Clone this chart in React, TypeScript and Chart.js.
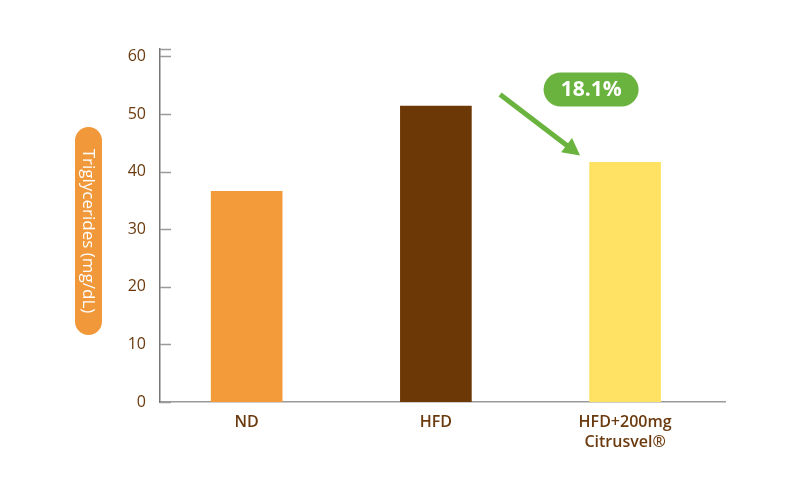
import React, { useEffect, useRef } from "react";
import { Chart, registerables } from "chart.js";

Chart.register(...registerables);

const categories: string[][] = [["ND"], ["HFD"], ["HFD+200mg", "Citrusvel®"]];
const values: number[] = [36.6, 51.4, 41.6];
const barColors: string[] = ["#F39A3A", "#6B3806", "#FFE264"];
const yTicks: number[] = [0, 10, 20, 30, 40, 50, 60];
const yMax = 61.3;
const yTitle = "Triglycerides (mg/dL)";
const reductionLabel = "18.1%";

const FONT = "'Open Sans', 'Noto Sans', sans-serif";
const BROWN = "#6B3A0E";
const GREEN = "#6AB33E";

function roundRect(ctx: CanvasRenderingContext2D, x: number, y: number, w: number, h: number, r: number) {
  ctx.beginPath();
  ctx.moveTo(x + r, y);
  ctx.lineTo(x + w - r, y);
  ctx.arc(x + w - r, y + r, r, -Math.PI / 2, 0);
  ctx.lineTo(x + w, y + h - r);
  ctx.arc(x + w - r, y + h - r, r, 0, Math.PI / 2);
  ctx.lineTo(x + r, y + h);
  ctx.arc(x + r, y + h - r, r, Math.PI / 2, Math.PI);
  ctx.lineTo(x, y + r);
  ctx.arc(x + r, y + r, r, Math.PI, Math.PI * 1.5);
  ctx.closePath();
}

const decorPlugin = {
  id: "decor",
  afterDraw(chart: any) {
    const ctx: CanvasRenderingContext2D = chart.ctx;
    const ys = chart.scales.y;
    const xs = chart.scales.x;
    const area = chart.chartArea;
    ctx.save();
    // inward tick marks
    ctx.strokeStyle = "#9A9A9A";
    ctx.lineWidth = 1.5;
    [...yTicks, yMax].forEach((v) => {
      const py = Math.round(ys.getPixelForValue(v)) + 0.5;
      ctx.beginPath();
      ctx.moveTo(area.left, py);
      ctx.lineTo(area.left + 11, py);
      ctx.stroke();
    });
    // y-axis title pill
    const pillW = 27;
    const pillH = 208;
    const pcx = 88.5;
    const pcy = 231;
    ctx.fillStyle = "#F0983A";
    roundRect(ctx, pcx - pillW / 2, pcy - pillH / 2, pillW, pillH, pillW / 2);
    ctx.fill();
    ctx.translate(pcx, pcy);
    ctx.rotate(Math.PI / 2);
    ctx.fillStyle = "#FFFFFF";
    ctx.font = `17px ${FONT}`;
    ctx.textAlign = "center";
    ctx.textBaseline = "middle";
    ctx.fillText(yTitle, 0, 1);
    ctx.restore();

    // annotation: arrow + pill
    ctx.save();
    const bx = xs.getPixelForValue(2);
    const by = ys.getPixelForValue(values[2]);
    const ex = bx - 45;
    const ey = by - 7;
    const sx = bx - 125;
    const sy = by - 68;
    const dx = ex - sx;
    const dy = ey - sy;
    const len = Math.hypot(dx, dy);
    const ux = dx / len;
    const uy = dy / len;
    const headL = 17;
    const headW = 9;
    ctx.strokeStyle = GREEN;
    ctx.fillStyle = GREEN;
    ctx.lineWidth = 5;
    ctx.beginPath();
    ctx.moveTo(sx, sy);
    ctx.lineTo(ex - ux * headL * 0.9, ey - uy * headL * 0.9);
    ctx.stroke();
    ctx.beginPath();
    ctx.moveTo(ex, ey);
    ctx.lineTo(ex - ux * headL - uy * headW, ey - uy * headL + ux * headW);
    ctx.lineTo(ex - ux * headL + uy * headW, ey - uy * headL - ux * headW);
    ctx.closePath();
    ctx.fill();
    const lcx = bx - 34;
    const lcy = by - 73;
    const lw = 95;
    const lh = 34;
    roundRect(ctx, lcx - lw / 2, lcy - lh / 2, lw, lh, lh / 2);
    ctx.fill();
    ctx.fillStyle = "#FFFFFF";
    ctx.font = `bold 21px ${FONT}`;
    ctx.textAlign = "center";
    ctx.textBaseline = "middle";
    ctx.fillText(reductionLabel, lcx, lcy + 1);
    ctx.restore();
  },
};

export default function App() {
  const canvasRef = useRef<HTMLCanvasElement | null>(null);

  useEffect(() => {
    if (!canvasRef.current) return;
    const chart = new Chart(canvasRef.current, {
      type: "bar",
      data: {
        datasets: [
          {
            data: values.map((v, i) => ({ x: i, y: v })) as any,
            backgroundColor: barColors,
            borderWidth: 0,
            barThickness: 71,
          },
        ],
      },
      options: {
        responsive: false,
        animation: false,
        layout: { padding: { top: 49, right: 75, bottom: 0, left: 0 } },
        plugins: { legend: { display: false }, tooltip: { enabled: false } },
        scales: {
          x: {
            type: "linear",
            offset: false,
            min: -0.458,
            max: 2.528,
            afterBuildTicks: (s: any) => {
              s.ticks = categories.map((_, i) => ({ value: i }));
            },
            afterFit: (s: any) => {
              s.height = 98;
            },
            grid: { display: false, drawTicks: false, offset: false },
            border: { display: true, color: "#9A9A9A", width: 1.5 },
            ticks: {
              padding: 10,
              color: BROWN,
              font: { family: FONT, size: 16, weight: 600 as any, lineHeight: 1.25 },
              callback: (v: any) => categories[v] as any,
              maxRotation: 0,
              autoSkip: false,
            },
          },
          y: {
            min: 0,
            max: yMax,
            afterBuildTicks: (s: any) => {
              s.ticks = yTicks.map((v) => ({ value: v }));
            },
            afterFit: (s: any) => {
              s.width = 160;
            },
            grid: { display: false, drawTicks: false },
            border: { display: true, color: "#777777", width: 1.5 },
            ticks: {
              padding: 14,
              color: BROWN,
              font: { family: FONT, size: 16 },
            },
          },
        },
      },
      plugins: [decorPlugin],
    });
    return () => chart.destroy();
  }, []);

  return (
    <div style={{ position: "fixed", left: 0, top: 0, width: 800, height: 500, background: "#fff" }}>
      <canvas ref={canvasRef} width={800} height={500} />
    </div>
  );
}
